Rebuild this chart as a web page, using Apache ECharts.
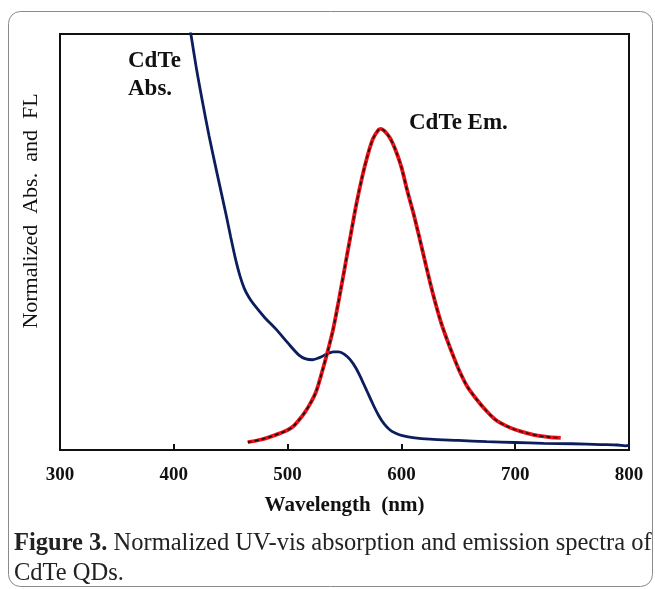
<!DOCTYPE html>
<html>
<head>
<meta charset="utf-8">
<script src="https://cdn.jsdelivr.net/npm/echarts@6/dist/echarts.min.js"></script>
<style>
  html, body { margin: 0; padding: 0; background: #fff; }
  #main { width: 655px; height: 589px; }
</style>
</head>
<body>
<div id="main"></div>
<script>
// absorption spectrum
var absWavelength = [413, 415, 420, 425, 431, 438, 446, 450, 454, 458, 462, 466, 470, 480, 490, 500, 510, 516, 522, 528, 534, 540, 545, 550, 555, 560, 565, 570, 575, 580, 585, 590, 595, 600, 610, 625, 650, 675, 700, 725, 750, 775, 790, 797, 800];
var absValue = [1.03, 1.0, 0.915, 0.84, 0.755, 0.665, 0.565, 0.512, 0.462, 0.42, 0.388, 0.367, 0.351, 0.318, 0.29, 0.258, 0.228, 0.219, 0.217, 0.222, 0.23, 0.236, 0.236, 0.23, 0.217, 0.197, 0.17, 0.14, 0.11, 0.083, 0.062, 0.048, 0.04, 0.035, 0.03, 0.026, 0.023, 0.02, 0.018, 0.016, 0.015, 0.013, 0.012, 0.01, 0.011];

// emission spectrum
var emWavelength = [465, 475, 484, 493, 500, 505, 510, 515, 520, 525, 530, 535, 540, 545, 550, 555, 560, 565, 570, 575, 580, 582, 585, 590, 595, 600, 605, 610, 615, 620, 625, 630, 635, 640, 645, 651, 658, 666, 675, 683, 692, 701, 711, 721, 730, 740];
var emValue = [0.019, 0.024, 0.031, 0.04, 0.048, 0.057, 0.072, 0.09, 0.112, 0.14, 0.185, 0.235, 0.29, 0.36, 0.435, 0.51, 0.585, 0.65, 0.705, 0.748, 0.77, 0.772, 0.767, 0.75, 0.72, 0.68, 0.625, 0.575, 0.52, 0.462, 0.405, 0.352, 0.305, 0.266, 0.23, 0.19, 0.152, 0.122, 0.093, 0.072, 0.058, 0.048, 0.04, 0.034, 0.031, 0.029];

var xTicks = [300, 400, 500, 600, 700, 800];

function pairs(xs, ys) {
    var out = [];
    for (var i = 0; i < xs.length; i++) {
        out.push([xs[i], ys[i]]);
    }
    return out;
}

var serif = '"Liberation Serif", "Times New Roman", serif';
var chart = echarts.init(document.getElementById('main'));

chart.setOption({
    backgroundColor: '#fff',
    animation: false,
    grid: {
        left: 60, right: 26, top: 34, bottom: 139,
        show: true, borderColor: '#111', borderWidth: 2
    },
    xAxis: {
        type: 'value',
        min: xTicks[0],
        max: xTicks[xTicks.length - 1],
        interval: 100,
        name: 'Wavelength  (nm)',
        nameLocation: 'middle',
        nameGap: 45,
        nameTextStyle: { fontFamily: serif, fontWeight: 'bold', fontSize: 21, color: '#111' },
        axisLine: { lineStyle: { color: '#111', width: 2 } },
        axisTick: { inside: true, length: 6, lineStyle: { color: '#111', width: 2 } },
        axisLabel: { margin: 16, fontFamily: serif, fontWeight: 'bold', fontSize: 19, color: '#111' },
        splitLine: { show: false }
    },
    yAxis: {
        type: 'value',
        min: 0,
        max: 1,
        axisLine: { show: false },
        axisTick: { show: false },
        axisLabel: { show: false },
        splitLine: { show: false }
    },
    series: [
        {
            name: 'CdTe Abs.',
            type: 'line',
            data: pairs(absWavelength, absValue),
            showSymbol: false,
            smooth: 0.3,
            lineStyle: { color: '#0c1d5e', width: 2.8 }
        },
        {
            name: 'CdTe Em.',
            type: 'line',
            data: pairs(emWavelength, emValue),
            showSymbol: false,
            smooth: 0.3,
            lineStyle: { color: '#ec1016', width: 3.8 }
        },
        {
            name: 'CdTe Em. dash',
            type: 'line',
            data: pairs(emWavelength, emValue),
            showSymbol: false,
            smooth: 0.3,
            lineStyle: { color: '#111', width: 1.6, type: [4, 3] }
        }
    ],
    graphic: [
        {
            type: 'rect',
            shape: { x: 8.5, y: 11.5, width: 644, height: 575, r: 12 },
            style: { fill: 'none', stroke: '#8a8a8a', lineWidth: 1 },
            silent: true
        },
        {
            type: 'text',
            x: 31, y: 211,
            rotation: Math.PI / 2,
            style: {
                text: 'Normalized  Abs.  and  FL',
                font: '22px ' + serif,
                fill: '#111',
                align: 'center',
                verticalAlign: 'middle'
            }
        },
        {
            type: 'text', left: 128, top: 47,
            style: { text: 'CdTe\nAbs.', font: 'bold 23px ' + serif, lineHeight: 28, fill: '#111' }
        },
        {
            type: 'text', left: 409, top: 112,
            style: { text: 'CdTe Em.', font: 'bold 23px ' + serif, fill: '#111' }
        },
        {
            type: 'text', left: 14, top: 529,
            style: {
                text: '{b|Figure 3.} Normalized UV-vis absorption and emission spectra of\nCdTe QDs.',
                font: '24.5px ' + serif,
                fill: '#222',
                lineHeight: 30,
                rich: {
                    b: { fontFamily: serif, fontWeight: 'bold', fontSize: 24.5, fill: '#222' }
                }
            }
        }
    ]
});
</script>
</body>
</html>
